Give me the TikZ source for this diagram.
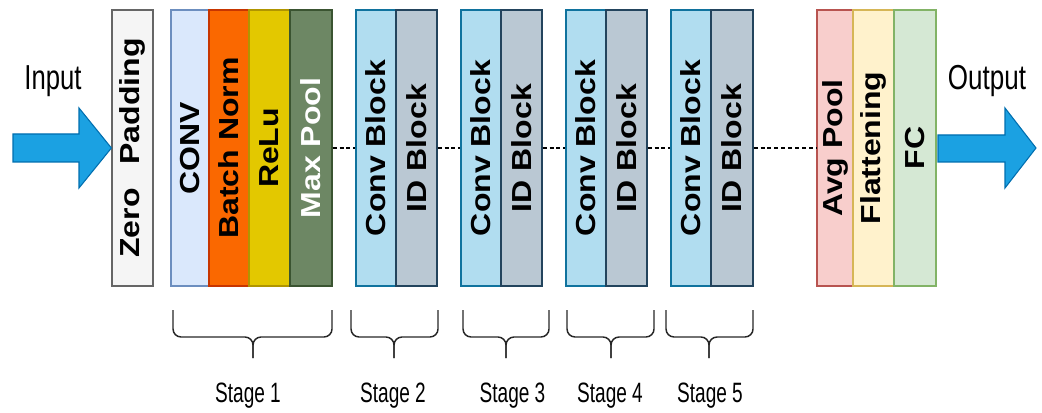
\documentclass[tikz,border=0pt]{standalone}
\usepackage{fontspec}
\setmainfont{Liberation Sans}
\usepackage{graphicx}
\definecolor{zpF}{HTML}{F5F5F5}\definecolor{zpD}{HTML}{666666}
\definecolor{cvF}{HTML}{DAE8FC}\definecolor{cvD}{HTML}{6C8EBF}
\definecolor{bnF}{HTML}{FA6800}\definecolor{bnD}{HTML}{C73500}
\definecolor{reF}{HTML}{E3C800}\definecolor{reD}{HTML}{B09500}
\definecolor{mpF}{HTML}{6D8764}\definecolor{mpD}{HTML}{3A5431}
\definecolor{cbF}{HTML}{B1DDF0}\definecolor{cbD}{HTML}{10739E}
\definecolor{idF}{HTML}{BAC8D3}\definecolor{idD}{HTML}{23445D}
\definecolor{apF}{HTML}{F8CECC}\definecolor{apD}{HTML}{B85450}
\definecolor{flF}{HTML}{FFF2CC}\definecolor{flD}{HTML}{D6B656}
\definecolor{fcF}{HTML}{D5E8D4}\definecolor{fcD}{HTML}{82B366}
\definecolor{arF}{HTML}{1BA1E2}\definecolor{arD}{HTML}{006EAF}
\newcommand\layertext[1]{\rotatebox{90}{\scalebox{1}[0.86]{\fontsize{24}{24}\selectfont\bfseries #1}}}
\newcommand\plainlabel[2]{\scalebox{#1}[1]{#2}}
\begin{document}
\begin{tikzpicture}[x=0.75pt,y=-0.75pt,
  layer/.style={draw, line width=0.9pt, minimum height=276*0.75pt, inner sep=0pt, anchor=center},
  lay/.style 2 args={layer, fill=#1F, draw=#1D, minimum width=#2*0.75pt},
  link/.style={line width=1pt, dash pattern=on 3pt off 2.2pt},
  bigarrow/.style={fill=arF, draw=arD, line width=0.8pt, line join=miter},
  bracestyle/.style={line width=1.1pt, rounded corners=6pt, draw=black!85},
  io/.style={font=\fontsize{26}{26}\selectfont, anchor=base, inner sep=0pt},
  stage/.style={font=\fontsize{21}{21}\selectfont, anchor=base, inner sep=0pt}]
\useasboundingbox (0,0) rectangle (1042,413);
% layers
\node[lay={zp}{41}] (zp) at (132.5,148) {\layertext{Zero\hspace{0.75em}Padding}};
\node[lay={cv}{38}] (conv) at (190,148) {\layertext{CONV}};
\node[lay={bn}{40}] (bn) at (229,148) {\layertext{Batch Norm}};
\node[lay={re}{41}] (relu) at (269.5,148) {\layertext{ReLu}};
\node[lay={mp}{42}, text=white] (mp) at (311,148) {\layertext{Max Pool}};
\node[lay={cb}{40}] (cb1) at (376,148) {\layertext{Conv Block}};
\node[lay={id}{41}] (id1) at (416.5,148) {\layertext{ID Block}};
\node[lay={cb}{40}] (cb2) at (481,148) {\layertext{Conv Block}};
\node[lay={id}{41}] (id2) at (521.5,148) {\layertext{ID Block}};
\node[lay={cb}{40}] (cb3) at (586,148) {\layertext{Conv Block}};
\node[lay={id}{41}] (id3) at (626.5,148) {\layertext{ID Block}};
\node[lay={cb}{40}] (cb4) at (691,148) {\layertext{Conv Block}};
\node[lay={id}{42}] (id4) at (732,148) {\layertext{ID Block}};
\node[lay={ap}{36}] (ap) at (835,148) {\layertext{Avg Pool}};
\node[lay={fl}{41}] (fl) at (873.5,148) {\layertext{Flattening}};
\node[lay={fc}{42}] (fc) at (915,148) {\layertext{FC}};
% dotted links
\draw[link] (mp.east) -- (cb1.west);
\draw[link] (id1.east) -- (cb2.west);
\draw[link] (id2.east) -- (cb3.west);
\draw[link] (id3.east) -- (cb4.west);
\draw[link] (id4.east) -- (ap.west);
% arrows
\draw[bigarrow] (13,134) -- (79,134) -- (79,108) -- (zp.west) -- (79,188) -- (79,162) -- (13,162) -- cycle;
\coordinate (outtip) at (1036,148);
\draw[bigarrow] (938,135) -- (1005,135) -- (1005,108) -- (outtip) -- (1005,188) -- (1005,162) -- (938,162) -- cycle;
\node[io] (in) at (53,90) {\plainlabel{0.74}{Input}};
\node[io] (out) at (987,90) {\plainlabel{0.75}{Output}};
% braces
\foreach \l/\m/\r in {173/253/332, 351/394/438, 463/506/549, 567/611/654, 666/709/753}{
  \draw[bracestyle] (\l,310) -- (\l,337) -- (\m,337) -- (\m,358);
  \draw[bracestyle] (\r,310) -- (\r,337) -- (\m,337) -- (\m,358);
}
\node[stage] (s1) at (248,402) {\plainlabel{0.68}{Stage 1}};
\node[stage] (s2) at (393,402) {\plainlabel{0.68}{Stage 2}};
\node[stage] (s3) at (512.5,402) {\plainlabel{0.68}{Stage 3}};
\node[stage] (s4) at (610,402) {\plainlabel{0.68}{Stage 4}};
\node[stage] (s5) at (710,402) {\plainlabel{0.68}{Stage 5}};
\end{tikzpicture}
\end{document}
